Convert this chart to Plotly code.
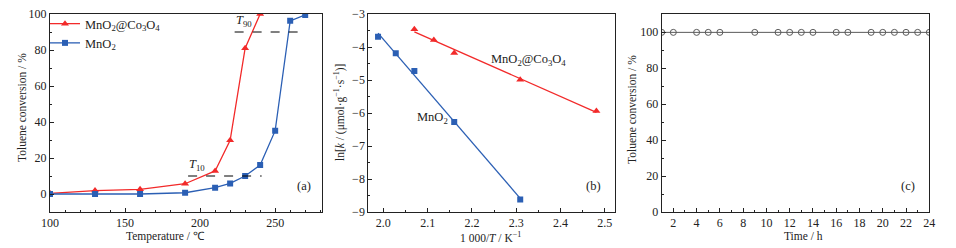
import numpy as np
import plotly.graph_objects as go

# ---------- data ----------
temp_a = [100, 130, 160, 190, 210, 220, 230, 240]
conv_composite = [0.4, 1.9, 2.6, 5.7, 12.8, 29.8, 81.0, 100.0]
temp_b = [100, 130, 160, 190, 210, 220, 230, 240, 250, 260, 270]
conv_mno2 = [0.0, 0.0, 0.0, 0.7, 3.5, 5.9, 10.0, 16.1, 35.2, 96.2, 99.5]
t90_x = [223, 265]
t90_y = 90
t10_x = [192, 241]
t10_y = 10

invT_mno2 = [1.988, 2.028, 2.070, 2.160, 2.309]
lnk_mno2 = [-3.69, -4.19, -4.73, -6.27, -8.62]
invT_comp = [2.070, 2.114, 2.160, 2.309, 2.481]
lnk_comp = [-3.46, -3.79, -4.18, -4.99, -5.94]

time_h = [1, 2, 4, 5, 6, 9, 11, 12, 13, 14, 16, 17, 19, 20, 21, 22, 23, 24]
conv_time = [99.8] * len(time_h)

RED = "#f22a2a"
BLUE = "#2b5fb4"
GREY = "#5a5a5a"
FONT = "Liberation Serif"
W, H = 956, 248

def px(x):
    return x / W

def py(y):
    return 1 - y / H

fig = go.Figure()

# ---------- panel a ----------
fig.add_trace(go.Scatter(x=temp_a, y=conv_composite, mode="lines+markers",
                         name="MnO<sub>2</sub>@Co<sub>3</sub>O<sub>4</sub>",
                         line=dict(color=RED, width=1.3),
                         marker=dict(symbol="triangle-up", size=7, color=RED),
                         xaxis="x", yaxis="y"))
fig.add_trace(go.Scatter(x=temp_b, y=conv_mno2, mode="lines+markers",
                         name="MnO<sub>2</sub>",
                         line=dict(color=BLUE, width=1.3),
                         marker=dict(symbol="square", size=6, color=BLUE),
                         xaxis="x", yaxis="y"))
for xs, yv in [(t90_x, t90_y), (t10_x, t10_y)]:
    fig.add_trace(go.Scatter(x=xs, y=[yv, yv], mode="lines", showlegend=False,
                             line=dict(color="black", width=1, dash="dash"),
                             xaxis="x", yaxis="y", hoverinfo="skip"))

# ---------- panel b ----------
for xs, ys, col, sym, sz in [(invT_mno2, lnk_mno2, BLUE, "square", 6),
                             (invT_comp, lnk_comp, RED, "triangle-up", 7)]:
    k, b = np.polyfit(xs, ys, 1)
    xf = np.array([min(xs), max(xs)])
    fig.add_trace(go.Scatter(x=xf, y=k * xf + b, mode="lines", showlegend=False,
                             line=dict(color=col, width=1.3),
                             xaxis="x2", yaxis="y2", hoverinfo="skip"))
    fig.add_trace(go.Scatter(x=xs, y=ys, mode="markers", showlegend=False,
                             marker=dict(symbol=sym, size=sz, color=col),
                             xaxis="x2", yaxis="y2"))

# ---------- panel c ----------
fig.add_trace(go.Scatter(x=time_h, y=conv_time, mode="lines+markers", showlegend=False,
                         line=dict(color=GREY, width=1),
                         marker=dict(symbol="circle-open", size=6, color=GREY,
                                     line=dict(width=1)),
                         xaxis="x3", yaxis="y3"))

tickfont = dict(family=FONT, size=12, color="#222")

def ax(domain, rng, dtick, minor_dtick, anchor):
    return dict(domain=domain, range=rng, dtick=dtick, tick0=0,
                showgrid=False, zeroline=False, showline=True, linecolor="#222",
                linewidth=1, mirror=True, ticks="inside", ticklen=4, tickwidth=1,
                tickcolor="#222", tickfont=tickfont,
                minor=dict(dtick=minor_dtick, ticks="inside", ticklen=2,
                           tickcolor="#222", showgrid=False),
                automargin=False, anchor=anchor)

ydom = [py(212), py(14)]
fig.update_layout(
    width=W, height=H, margin=dict(l=0, r=0, t=0, b=0),
    paper_bgcolor="white", plot_bgcolor="white",
    font=dict(family=FONT, color="#222"),
    showlegend=True,
    legend=dict(x=px(45), y=py(9), xanchor="left", yanchor="top",
                font=dict(family=FONT, size=12.5, color="#222"),
                bgcolor="rgba(0,0,0,0)", tracegroupgap=0, itemwidth=30),
    xaxis=ax([px(50), px(321.7)], [100, 281], 50, 10, "y"),
    yaxis=ax(ydom, [-10, 100], 20, 10, "x"),
    xaxis2=ax([px(368.3), px(615)], [1.966, 2.523], 0.1, 0.05, "y2"),
    yaxis2=ax(ydom, [-9, -3], 1, 0.5, "x2"),
    xaxis3=ax([px(661.7), px(929.3)], [1, 24], 2, 1, "y3"),
    yaxis3=ax(ydom, [0, 110], 20, 10, "x3"),
)
fig.update_xaxes(tickformat=".1f", selector=dict(anchor="y2"))

ann_font = dict(family=FONT, size=12.5, color="#222")
title_font = dict(family=FONT, size=11.5, color="#222")

def title(x, y, text, angle=0):
    fig.add_annotation(x=px(x), y=py(y), xref="paper", yref="paper", text=text,
                       showarrow=False, textangle=angle, font=title_font,
                       xanchor="center", yanchor="middle")

title(165, 236, "Temperature / ℃")
title(22, 108, "Toluene conversion / %", -90)
title(491, 237, "1 000/<i>T</i> / K<sup>−1</sup>")
title(340, 113, "ln[<i>k</i> / (μmol·g<sup>−1</sup>·s<sup>−1</sup>)]", -90)
title(803, 236, "Time / h")
title(632, 110, "Toluene conversion / %", -90)

fig.add_annotation(x=229, y=96, xref="x", yref="y", text="<i>T</i><sub>90</sub>",
                   showarrow=False, font=ann_font)
fig.add_annotation(x=198, y=16, xref="x", yref="y", text="<i>T</i><sub>10</sub>",
                   showarrow=False, font=ann_font)
fig.add_annotation(x=px(313), y=py(195), xref="paper", yref="paper", text="(a)",
                   showarrow=False, xanchor="right", font=ann_font)
fig.add_annotation(x=2.327, y=-4.4, xref="x2", yref="y2",
                   text="MnO<sub>2</sub>@Co<sub>3</sub>O<sub>4</sub>",
                   showarrow=False, font=ann_font)
fig.add_annotation(x=2.11, y=-6.15, xref="x2", yref="y2", text="MnO<sub>2</sub>",
                   showarrow=False, font=ann_font)
fig.add_annotation(x=px(603), y=py(195), xref="paper", yref="paper", text="(b)",
                   showarrow=False, xanchor="right", font=ann_font)
fig.add_annotation(x=px(917), y=py(195), xref="paper", yref="paper", text="(c)",
                   showarrow=False, xanchor="right", font=ann_font)

fig.write_html("out.html", config={"displayModeBar": False},
               post_script="document.body.style.margin='0';document.body.style.overflow='hidden';")
